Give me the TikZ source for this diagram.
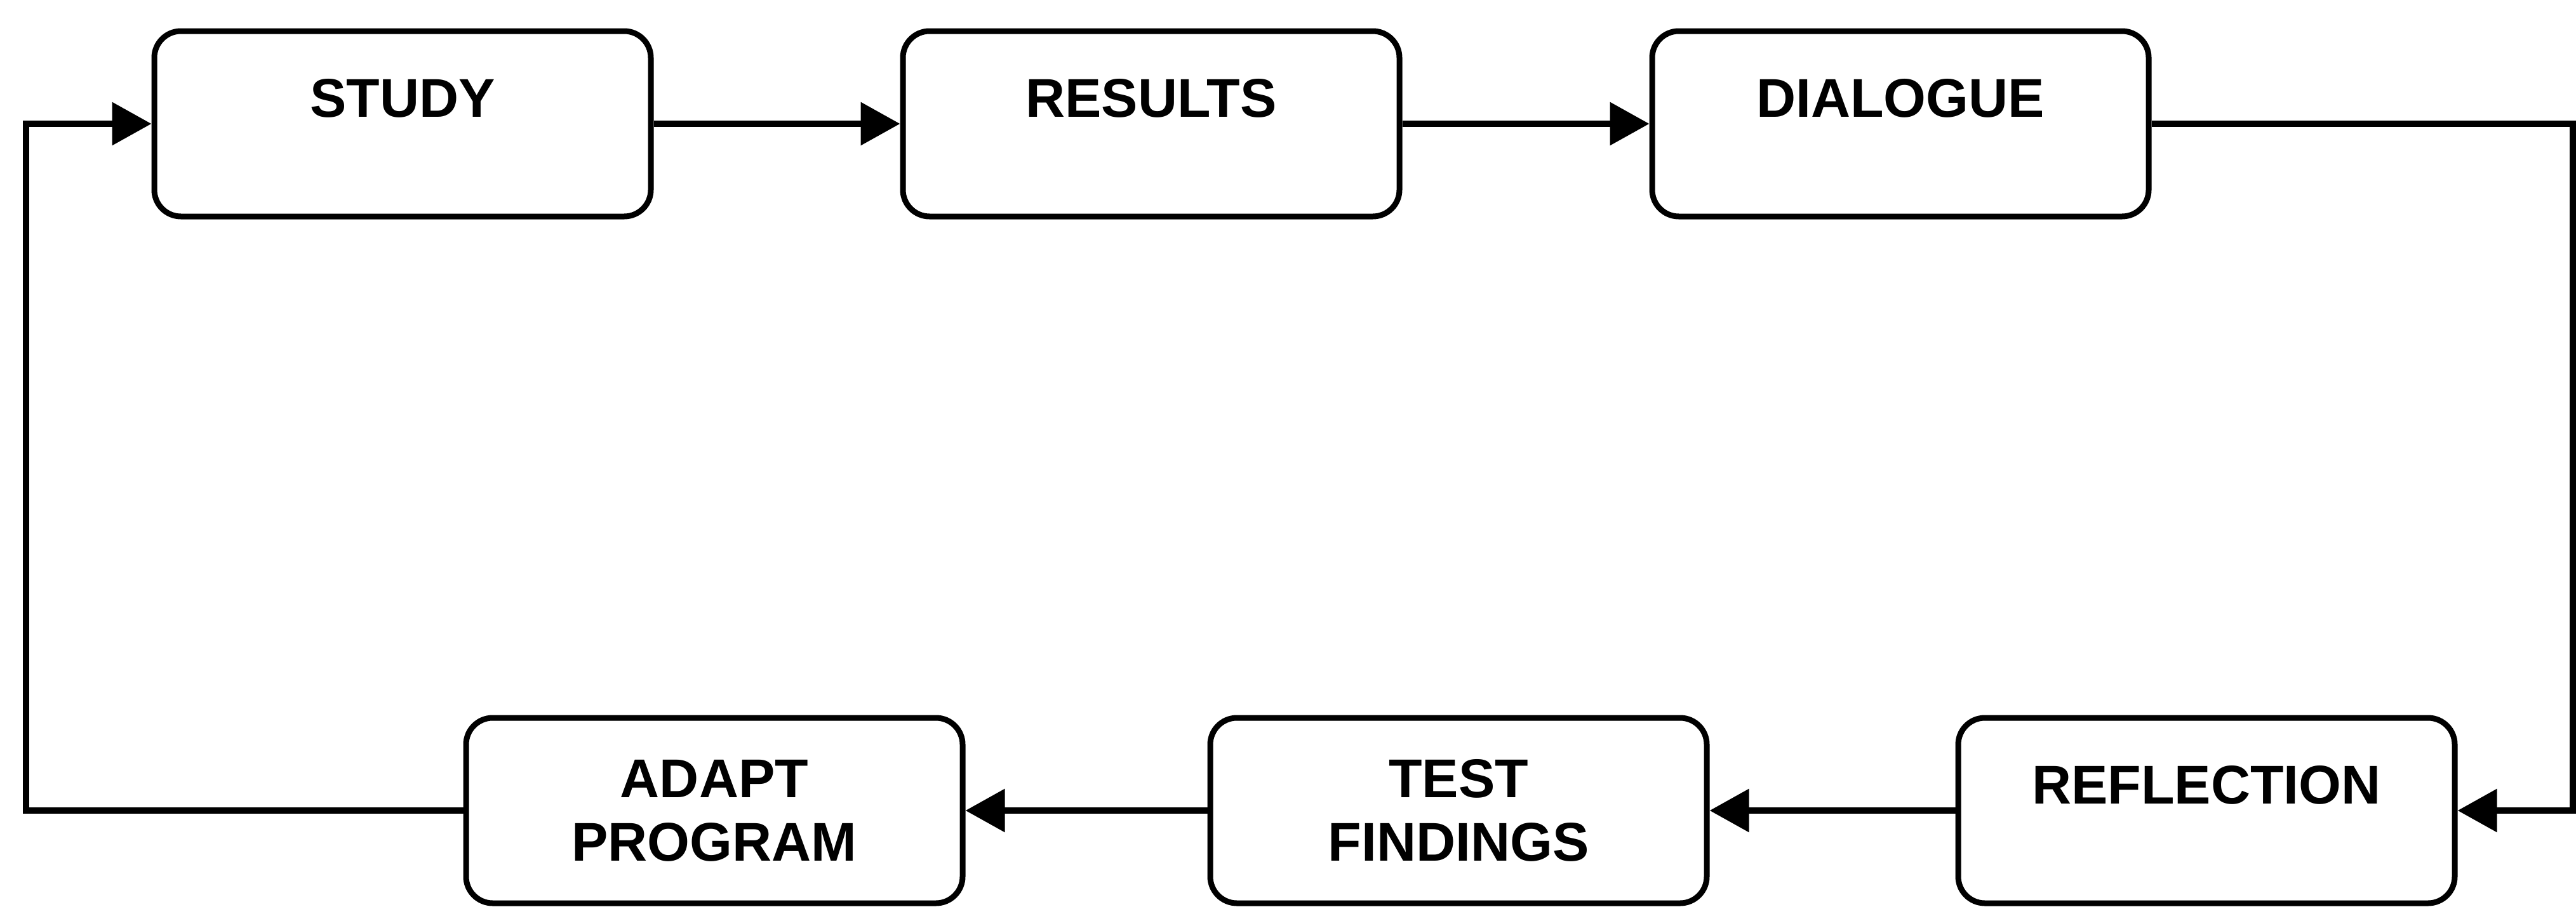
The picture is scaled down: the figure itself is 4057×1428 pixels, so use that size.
\documentclass[tikz,border=0pt]{standalone}
\usepackage{fontspec}
\setmainfont{Liberation Sans}
\usetikzlibrary{arrows.meta}
\begin{document}
\begin{tikzpicture}[x=1pt,y=-1pt,
  box/.style={draw, line width=9pt, rounded corners=42pt, minimum width=782pt,
    minimum height=292pt, inner sep=0pt, align=center,
    font=\fontsize{86}{100}\selectfont\bfseries},
  oneline/.style={text height=50pt, text depth=72pt},
  conn/.style={line width=10pt},
  arr/.style={conn, -{Triangle[length=62pt,width=66pt]}}]
\useasboundingbox (0,0) rectangle (4057,1428);
\node[box,oneline] (study) at (634,195) {STUDY};
\node[box,oneline] (results) at (1813,195) {RESULTS};
\node[box,oneline] (dialogue) at (2993,195) {DIALOGUE};
\node[box] (adapt) at (1125,1277) {ADAPT\\PROGRAM};
\node[box] (test) at (2297,1277) {TEST\\FINDINGS};
\node[box,oneline] (reflection) at (3475,1277) {REFLECTION};
\coordinate (tr) at (4052,195);
\coordinate (br) at (4052,1277);
\coordinate (bl) at (41,1277);
\coordinate (tl) at (41,195);
\draw[arr] (study.east) -- (results.west);
\draw[arr] (results.east) -- (dialogue.west);
\draw[arr] (dialogue.east) -- (tr) -- (br) -- (reflection.east);
\draw[arr] (reflection.west) -- (test.east);
\draw[arr] (test.west) -- (adapt.east);
\draw[arr] (adapt.west) -- (bl) -- (tl) -- (study.west);
\end{tikzpicture}
\end{document}
